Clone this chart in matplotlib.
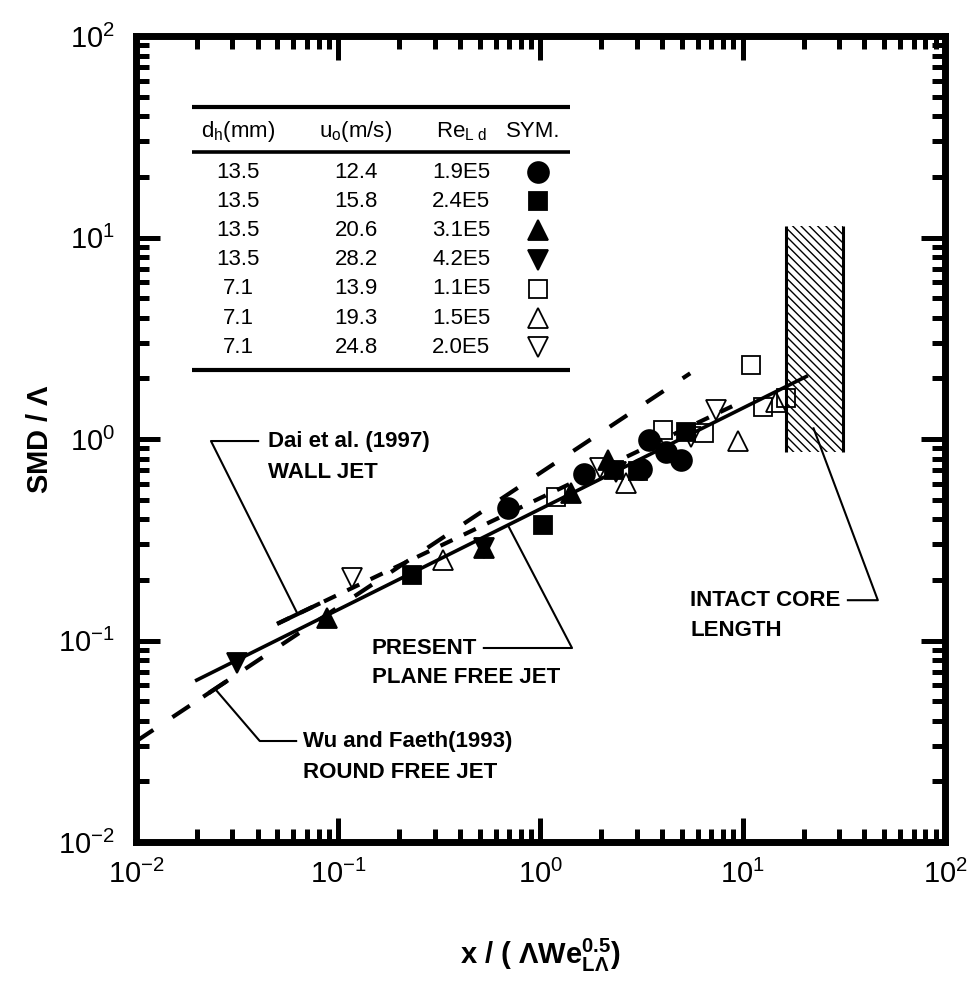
import numpy as np
import matplotlib.pyplot as plt
from matplotlib.ticker import LogLocator, FuncFormatter, NullFormatter

plt.rcParams["font.family"] = ["Liberation Sans", "DejaVu Sans"]
plt.rcParams["mathtext.fontset"] = "custom"
plt.rcParams["mathtext.rm"] = "Liberation Sans"
plt.rcParams["mathtext.it"] = "Liberation Sans:italic"
plt.rcParams["mathtext.bf"] = "Liberation Sans:bold"
plt.rcParams["hatch.linewidth"] = 1.0

# test conditions (table)
dh_mm = ["13.5", "13.5", "13.5", "13.5", "7.1", "7.1", "7.1"]
uo_ms = ["12.4", "15.8", "20.6", "28.2", "13.9", "19.3", "24.8"]
re_ld = ["1.9E5", "2.4E5", "3.1E5", "4.2E5", "1.1E5", "1.5E5", "2.0E5"]

# measurements: x/(Lambda We^0.5) and SMD/Lambda, one pair per condition
x_135_124 = [0.69, 1.65, 3.13, 3.43, 4.16, 4.93]
y_135_124 = [0.455, 0.67, 0.71, 0.99, 0.86, 0.79]
x_135_158 = [0.232, 1.035, 2.30, 3.05, 5.22]
y_135_158 = [0.211, 0.374, 0.70, 0.69, 1.08]
x_135_206 = [0.0883, 0.523, 1.41, 2.15]
y_135_206 = [0.129, 0.288, 0.54, 0.79]
x_135_282 = [0.0316, 0.523, 2.35]
y_135_282 = [0.077, 0.288, 0.685]
x_71_139 = [1.19, 4.02, 6.41, 10.96, 12.6, 16.3]
y_71_139 = [0.515, 1.11, 1.07, 2.33, 1.44, 1.60]
x_71_193 = [0.331, 2.64, 9.44, 14.6]
y_71_193 = [0.251, 0.605, 0.977, 1.53]
x_71_248 = [0.117, 1.98, 5.53, 7.35]
y_71_248 = [0.204, 0.72, 1.02, 1.39]

# correlations SMD/Lambda = C * x^n
present_c, present_n, present_x = 0.45, 0.5, (0.0196, 21.0)
wu_c, wu_n, wu_x = 0.68, 2.0 / 3.0, (0.01, 5.5)
dai_c, dai_n, dai_x = 0.51, 0.48, (0.05, 9.4)

# intact core length band
core_x = (16.3, 31.3)
core_y = (0.86, 11.4)

series = [
    (x_135_124, y_135_124, "o", "black", 15),
    (x_135_158, y_135_158, "s", "black", 12.5),
    (x_135_206, y_135_206, "^", "black", 14),
    (x_135_282, y_135_282, "v", "black", 14),
    (x_71_139, y_71_139, "s", "none", 13),
    (x_71_193, y_71_193, "^", "none", 14),
    (x_71_248, y_71_248, "v", "none", 14),
]


def corr(c, n, xr):
    xs = np.logspace(np.log10(xr[0]), np.log10(xr[1]), 50)
    return xs, c * xs ** n


def frac(x, y):
    # axes fraction of a data point on the 1e-2..1e2 log-log frame
    return (np.log10(x) + 2) / 4, (np.log10(y) + 2) / 4


fig = plt.figure(figsize=(9.74, 9.90), dpi=100)
ax = fig.add_axes([0.1396, 0.1495, 0.8306, 0.8141])
ax.set_xscale("log")
ax.set_yscale("log")
ax.set_xlim(1e-2, 1e2)
ax.set_ylim(1e-2, 1e2)

# lines
xs, ys = corr(present_c, present_n, present_x)
ax.plot(xs, ys, color="black", lw=2.6, solid_capstyle="butt", zorder=3)
xs, ys = corr(wu_c, wu_n, wu_x)
ax.plot(xs, ys, color="black", lw=3, dashes=(5, 5.5), zorder=3)
xs, ys = corr(dai_c, dai_n, dai_x)
ax.plot(xs, ys, color="black", lw=3, dashes=(3.2, 3.0), zorder=3)

# hatched intact core band
ax.fill_betweenx(core_y, core_x[0], core_x[1], facecolor="none",
                 edgecolor="black", hatch="\\\\\\\\", linewidth=0, zorder=2)
ax.vlines(core_x, core_y[0], core_y[1], color="black", lw=2.2, zorder=2)

# data
for xv, yv, m, fc, ms in series:
    ax.plot(xv, yv, ls="none", marker=m, ms=ms, mfc=fc, mec="black",
            mew=1.3, zorder=4)

# table
tx_dh, tx_uo, tx_re, tx_sym = 0.126, 0.272, 0.402, 0.487
rule_x = [0.069, 0.536]
for yr, w in [(0.912, 3.0), (0.856, 2.6), (0.586, 3.0)]:
    ax.plot(rule_x, [yr, yr], transform=ax.transAxes, color="black", lw=w,
            solid_capstyle="butt", clip_on=False)
hy = 0.881
tfs = 16
ax.text(tx_dh, hy, r"d$_\mathregular{h}$(mm)", transform=ax.transAxes,
        ha="center", va="center", fontsize=tfs)
ax.text(tx_uo, hy, r"u$_\mathregular{o}$(m/s)", transform=ax.transAxes,
        ha="center", va="center", fontsize=tfs)
ax.text(tx_re, hy, r"Re$_\mathregular{L\ d}$", transform=ax.transAxes,
        ha="center", va="center", fontsize=tfs)
ax.text(tx_sym + 0.004, hy, "SYM.", transform=ax.transAxes,
        ha="center", va="center", fontsize=tfs)
for i in range(len(dh_mm)):
    ry = 0.8313 - 0.03623 * i
    ax.text(tx_dh, ry, dh_mm[i], transform=ax.transAxes, ha="center",
            va="center", fontsize=tfs)
    ax.text(tx_uo, ry, uo_ms[i], transform=ax.transAxes, ha="center",
            va="center", fontsize=tfs)
    ax.text(tx_re, ry, re_ld[i], transform=ax.transAxes, ha="center",
            va="center", fontsize=tfs)
    _, _, m, fc, ms = series[i]
    ax.plot([tx_sym + 0.01], [ry], transform=ax.transAxes, marker=m, ms=ms,
            mfc=fc, mec="black", mew=1.3, ls="none")

# annotations
afs = 16
ax.text(0.163, 0.4975, "Dai et al. (1997)", transform=ax.transAxes,
        ha="left", va="center", fontsize=afs, fontweight="bold")
ax.text(0.163, 0.459, "WALL JET", transform=ax.transAxes,
        ha="left", va="center", fontsize=afs, fontweight="bold")
tgt = frac(0.063, dai_c * 0.063 ** dai_n)
ax.plot([0.151, 0.0927, tgt[0]], [0.4975, 0.4975, tgt[1]],
        transform=ax.transAxes, color="black", lw=1.5)
bx = np.array([0.0498, 0.0814])
ax.plot(bx, dai_c * bx ** dai_n, color="black", lw=3, solid_capstyle="butt")

ax.text(0.2064, 0.1253, "Wu and Faeth(1993)", transform=ax.transAxes,
        ha="left", va="center", fontsize=afs, fontweight="bold")
ax.text(0.2064, 0.0868, "ROUND FREE JET", transform=ax.transAxes,
        ha="left", va="center", fontsize=afs, fontweight="bold")
tgt = frac(0.0246, wu_c * 0.0246 ** wu_n)
ax.plot([0.198, 0.153, tgt[0]], [0.1253, 0.1253, tgt[1]],
        transform=ax.transAxes, color="black", lw=1.5)
bx = np.array([0.0215, 0.0285])
ax.plot(bx, wu_c * bx ** wu_n, color="black", lw=3, solid_capstyle="butt")

ax.text(0.2917, 0.2407, "PRESENT", transform=ax.transAxes,
        ha="left", va="center", fontsize=afs, fontweight="bold")
ax.text(0.2917, 0.2047, "PLANE FREE JET", transform=ax.transAxes,
        ha="left", va="center", fontsize=afs, fontweight="bold")
tgt = frac(0.69, present_c * 0.69 ** present_n)
ax.plot([0.43, 0.539, tgt[0]], [0.2407, 0.2407, tgt[1]],
        transform=ax.transAxes, color="black", lw=1.5)

ax.text(0.685, 0.300, "INTACT CORE", transform=ax.transAxes,
        ha="left", va="center", fontsize=afs, fontweight="bold")
ax.text(0.685, 0.263, "LENGTH", transform=ax.transAxes,
        ha="left", va="center", fontsize=afs, fontweight="bold")
tgt = frac(22.4, 1.13)
ax.plot([0.88, 0.917, tgt[0]], [0.300, 0.300, tgt[1]],
        transform=ax.transAxes, color="black", lw=1.5)

# axes styling
for s in ax.spines.values():
    s.set_linewidth(5)
ax.xaxis.set_major_locator(LogLocator(base=10, numticks=10))
ax.yaxis.set_major_locator(LogLocator(base=10, numticks=10))
ax.xaxis.set_minor_locator(LogLocator(base=10, subs=np.arange(2, 10), numticks=20))
ax.yaxis.set_minor_locator(LogLocator(base=10, subs=np.arange(2, 10), numticks=20))
fmt = FuncFormatter(lambda v, p: r"$\mathregular{10^{%d}}$" % round(np.log10(v)))
ax.xaxis.set_major_formatter(fmt)
ax.yaxis.set_major_formatter(fmt)
ax.xaxis.set_minor_formatter(NullFormatter())
ax.yaxis.set_minor_formatter(NullFormatter())
ax.tick_params(which="both", direction="in", top=True, right=True, width=3.6)
ax.tick_params(which="major", length=17, labelsize=21)
ax.tick_params(which="minor", length=9.5)
ax.tick_params(axis="x", which="major", pad=13)
ax.tick_params(axis="y", which="major", pad=15)

ax.set_ylabel(r"SMD / $\mathbf{\Lambda}$", fontsize=21, fontweight="bold",
              labelpad=3)
ax.set_xlabel(r"$\mathbf{x\ /\ (\ \Lambda We^{0.5}_{L\Lambda})}$", fontsize=21,
              labelpad=34)

fig.savefig("out.png", dpi=100)
